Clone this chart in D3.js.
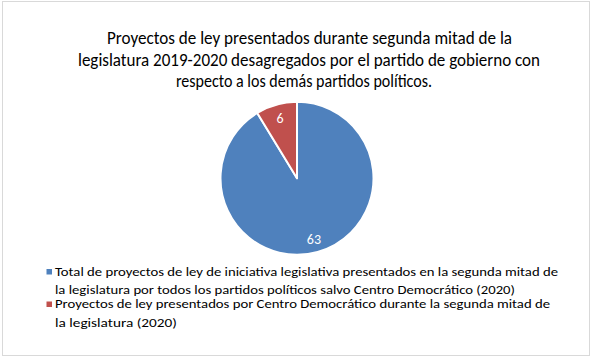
<!DOCTYPE html>
<html><head><meta charset="utf-8">
<script src="https://cdn.jsdelivr.net/npm/d3@7"></script>
<style>body{margin:0;background:#fff}svg{display:block}text{font-family:Carlito,Calibri,Lato,"Open Sans",sans-serif}</style>
</head><body>
<script>
const categories = [
  "Total de proyectos de ley de iniciativa legislativa presentados en la segunda mitad de la legislatura por todos los partidos políticos salvo Centro Democrático (2020)",
  "Proyectos de ley presentados por Centro Democrático durante la segunda mitad de la legislatura (2020)"
];
const values = [63, 6];
const colors = ["#4F81BD", "#C0504D"];
const titleLines = [
  "Proyectos de ley presentados durante segunda mitad de la",
  "legislatura 2019-2020 desagregados por el partido de gobierno con",
  "respecto a los demás partidos políticos."
];
const legendLines = [
  ["Total de proyectos de ley de iniciativa legislativa presentados en la segunda mitad de",
   "la legislatura por todos los partidos políticos salvo Centro Democrático (2020)"],
  ["Proyectos de ley presentados por Centro Democrático durante la segunda mitad de",
   "la legislatura (2020)"]
];

const W = 593, H = 356;
const svg = d3.select("body").append("svg").attr("width", W).attr("height", H);
svg.append("rect").attr("x", 2.5).attr("y", 1.5).attr("width", 587).attr("height", 354)
  .attr("fill", "#fff").attr("stroke", "#d9d9d9").attr("stroke-width", 1);

// Title
const titleSpans = [[107, 512, 44], [78, 540, 66], [176, 432, 86.5]];
svg.append("g").selectAll("text").data(titleLines).join("text")
  .attr("x", (d, i) => titleSpans[i][0])
  .attr("y", (d, i) => titleSpans[i][2])
  .attr("textLength", (d, i) => titleSpans[i][1] - titleSpans[i][0])
  .attr("lengthAdjust", "spacingAndGlyphs")
  .attr("font-size", 17.5).attr("fill", "#000").text(d => d);

// Pie
const cx = 297, cy = 178.3, r = 76.5;
const pie = d3.pie().sort(null).value(d => d)(values);
const arc = d3.arc().innerRadius(0).outerRadius(r);
const g = svg.append("g").attr("transform", `translate(${cx},${cy})`);
g.selectAll("path").data(pie).join("path")
  .attr("d", arc).attr("fill", (d, i) => colors[i])
  .attr("stroke", "#fff").attr("stroke-width", 2).attr("stroke-linejoin", "round");
const labelArc = d3.arc().innerRadius(r * 0.82).outerRadius(r * 0.82);
g.selectAll("text.lbl").data(pie).join("text").attr("class", "lbl")
  .attr("transform", d => {
    const c = labelArc.centroid(d);
    return `translate(${c[0]},${c[1]})`;
  })
  .attr("text-anchor", "middle").attr("dy", "0.35em")
  .attr("font-size", 14).attr("fill", "#fff").text(d => d.data);

// Legend
const legX = 55;
const legBase = [[275.5, 294], [308, 327]];
const legEnds = [[558, 515], [550, 177]];
const lg = svg.append("g");
legendLines.forEach((lines, i) => {
  lg.append("rect").attr("x", 46.5).attr("y", legBase[i][0] - 6.5).attr("width", 5.5).attr("height", 5.5)
    .attr("fill", colors[i]);
  lines.forEach((t, j) => {
    lg.append("text").attr("x", legX).attr("y", legBase[i][j])
      .attr("textLength", legEnds[i][j] - legX).attr("lengthAdjust", "spacingAndGlyphs")
      .attr("font-size", 13).attr("fill", "#000").text(t);
  });
});
</script>
</body></html>
